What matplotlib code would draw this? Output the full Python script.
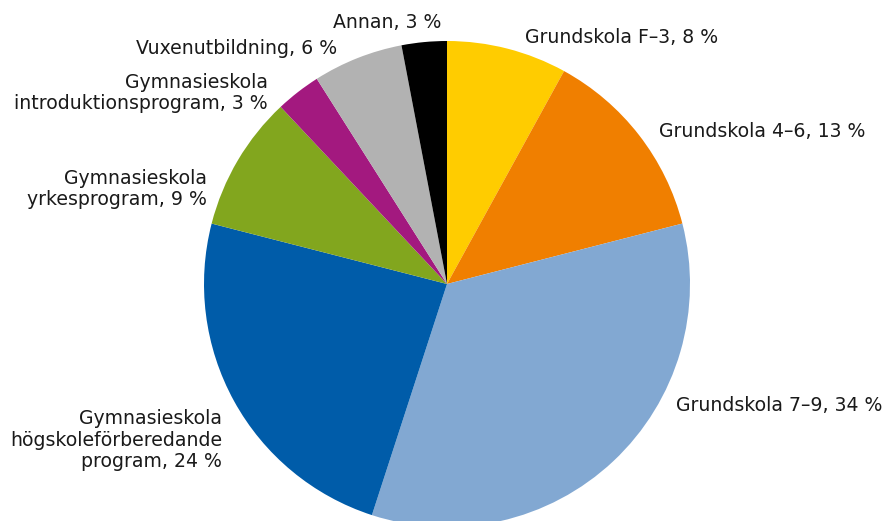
import matplotlib
matplotlib.use("Agg")
import matplotlib.pyplot as plt

categories = [
    "Grundskola F–3",
    "Grundskola 4–6",
    "Grundskola 7–9",
    "Gymnasieskola\nhögskoleförberedande\nprogram",
    "Gymnasieskola\nyrkesprogram",
    "Gymnasieskola\nintroduktionsprogram",
    "Vuxenutbildning",
    "Annan",
]
shares = [8, 13, 34, 24, 9, 3, 6, 3]
colors = ["#ffcc00", "#f07f00", "#82a8d2", "#005ca9",
          "#82a61e", "#a3197f", "#b2b2b2", "#000000"]

# label anchor points in pie-radius units, and alignment
label_pos = [(0.32, 1.016), (0.872, 0.626), (0.942, -0.498), (-0.926, -0.642),
             (-0.988, 0.391), (-0.737, 0.786), (-0.453, 0.971), (-0.023, 1.078)]
label_ha = ["left", "left", "left", "right", "right", "right", "right", "right"]

plt.rcParams["font.family"] = ["DejaVu Sans"]

W, H = 883, 521
cx, cy, r = 447, 284, 243
fig = plt.figure(figsize=(W / 100, H / 100), dpi=100)
ax = fig.add_axes([0, 0, 1, 1])
ax.pie(shares, colors=colors, startangle=90, counterclock=False,
       wedgeprops=dict(linewidth=0))
for cat, val, (x, y), ha in zip(categories, shares, label_pos, label_ha):
    ax.text(x, y, f"{cat}, {val} %", ha=ha, va="center", multialignment=ha,
            fontsize=13.6, color="#1a1a1a", linespacing=1.15)
ax.set_aspect("auto")
ax.set_xlim(-cx / r, (W - cx) / r)
ax.set_ylim((cy - H) / r, cy / r)
ax.axis("off")
fig.savefig("out.png", dpi=100)
